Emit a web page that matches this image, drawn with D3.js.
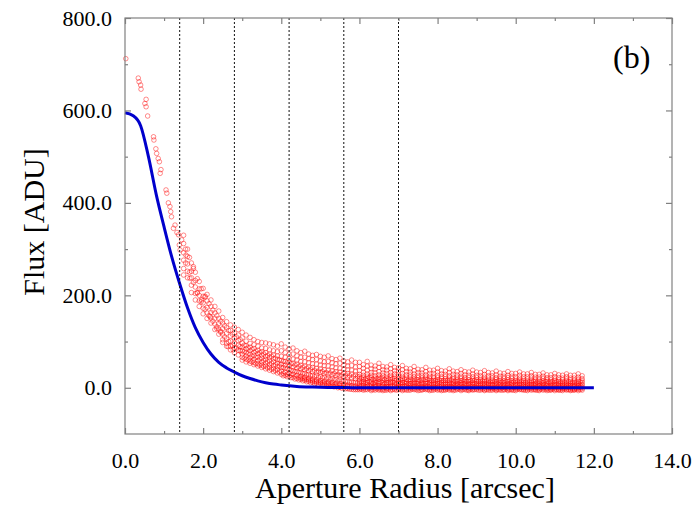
<!DOCTYPE html>
<html lang="en">
<head>
    <meta charset="utf-8" />
    <title>Flux vs Aperture Radius</title>
    <script src="https://cdnjs.cloudflare.com/ajax/libs/d3/7.8.5/d3.min.js"></script>
    <style>
        body { margin: 0; background: white; }
        text { font-family: "Liberation Serif", "Times New Roman", serif; }
        .axis line { stroke: #808080; stroke-width: 1.2; }
        .axis path { display: none; }
        .pt { fill: none; stroke: #ff0000; stroke-opacity: 0.5; stroke-width: 0.9; }
    </style>
</head>
<body>
<script>
    // ---- data ----
    const xTicks = [0, 2, 4, 6, 8, 10, 12, 14];
    const xMinor = [1, 3, 5, 7, 9, 11, 13];
    const yTicks = [0, 200, 400, 600, 800];
    const yMinor = [100, 300, 500, 700];
    const apertures = [1.4, 2.8, 4.2, 5.6, 7.0];

    // model profile (blue curve)
    const modelR = [0, 0.2, 0.4, 0.6, 0.8, 1.0, 1.2, 1.4, 1.6, 1.8, 2.0, 2.2, 2.4, 2.6, 2.8, 3.0,
                    3.2, 3.4, 3.6, 3.8, 4.0, 4.4, 4.8, 5.2, 5.6, 6.0, 7.0, 8.0, 9.0, 10.0, 11.0, 12.0];
    const modelF = [595, 589, 567, 500, 418, 348, 282, 225, 173, 130, 98, 73, 55, 43, 34, 26,
                    20, 15, 11, 8, 6, 3, 1.6, 0.8, 0.4, 0.2, 0, 0, 0, 0, 0, 0];

    // individual pixels near the core: [radius, flux]
    const corePts = [
        [0.02, 712], [0.34, 670], [0.36, 662], [0.40, 655], [0.41, 646], [0.51, 615], [0.54, 624],
        [0.54, 608], [0.58, 588], [0.73, 543], [0.74, 536], [0.79, 517], [0.81, 507], [0.85, 496],
        [0.88, 489], [0.90, 464], [0.92, 472], [1.05, 428], [1.07, 421], [1.11, 400], [1.15, 392],
        [1.17, 381], [1.19, 370], [1.24, 345], [1.28, 352], [1.33, 336], [1.37, 331], [1.39, 309],
        [1.41, 298], [1.45, 320], [1.56, 287], [1.66, 237], [1.75, 262], [1.85, 205], [1.96, 190],
        [2.05, 198], [2.18, 154], [2.35, 128], [2.45, 122], [2.64, 89], [2.77, 82], [2.94, 89]
    ];

    // outer pixels, grouped by radius column (1.5 .. 11.7 arcsec, step 0.1)
    const bandR = d3.range(15, 118).map(i => i / 10);
    const bandF = [
        [330, 312, 292, 276, 258, 244], [300, 284, 268, 252, 238], [270, 252, 238, 222, 206],
        [250, 232, 218, 204, 190], [230, 214, 200, 188, 176], [215, 198, 184, 172, 160],
        [202, 188, 174, 162, 150], [190, 176, 163, 151, 140], [176, 162, 150, 138, 126],
        [166, 150, 139, 127, 116], [152, 140, 128, 116, 104, 98], [143, 130, 118, 106, 96, 90],
        [136, 124, 112, 101, 90, 82], [131, 119, 107, 96, 86, 76], [126, 114, 102, 92, 81, 71],
        // 3.0
        [120, 108, 97, 88, 80, 73, 66, 60], [114, 101, 91, 84, 76, 69, 62, 56],
        [109, 96, 88, 80, 72, 65, 58, 53], [104, 93, 85, 77, 70, 62, 55, 50],
        [100, 90, 81, 74, 66, 59, 52, 47], [98, 86, 78, 71, 64, 56, 49, 44],
        [97, 85, 76, 68, 61, 54, 47, 41], [95, 82, 73, 66, 58, 51, 44, 38],
        [93, 80, 71, 63, 56, 48, 41, 35], [90, 78, 69, 61, 53, 46, 39, 32],
        // 4.0
        [95, 80, 68, 59, 51, 44, 36, 29], [88, 76, 66, 57, 49, 42, 34, 27],
        [84, 72, 63, 55, 47, 39, 31, 25], [86, 73, 62, 53, 45, 37, 29, 22],
        [80, 69, 60, 51, 43, 35, 27, 20], [76, 66, 57, 49, 41, 33, 25, 21, 18],
        [79, 66, 56, 47, 39, 31, 23, 19, 16], [73, 63, 54, 45, 37, 29, 21, 17, 14],
        [70, 61, 52, 44, 35, 27, 19, 15, 12], [72, 61, 51, 42, 34, 26, 17, 13, 10],
        // 5.0
        [68, 58, 49, 41, 33, 24, 16, 12, 9], [66, 56, 48, 39, 31, 23, 14, 10, 7],
        [69, 57, 47, 38, 30, 21, 13, 9, 6], [63, 54, 45, 37, 28, 20, 12, 8, 4],
        [61, 52, 43, 35, 27, 18, 10, 6, 3], [64, 53, 42, 34, 26, 17, 9, 5, 1],
        [58, 49, 40, 32, 24, 16, 8, 4, 0], [56, 47, 39, 31, 23, 14, 6, 2, -2],
        [60, 48, 38, 30, 21, 13, 5, 1, -3], [55, 45, 36, 28, 20, 12, 4, 0, -4],
        // 6.0
        [55, 46, 37, 29, 24, 19, 14, 10, 6, 2, -1, -4], [50, 42, 34, 27, 22, 17, 13, 9, 5, 1, -2, -5],
        [57, 47, 38, 30, 25, 20, 15, 11, 7, 3, 0, -4], [49, 41, 33, 27, 22, 17, 12, 8, 4, 1, -3, -6],
        [47, 40, 33, 26, 21, 16, 12, 8, 5, 2, -1, -5], [53, 44, 35, 28, 23, 18, 13, 9, 5, 1, -2, -5],
        [46, 39, 32, 26, 21, 16, 11, 7, 4, 0, -3, -6], [45, 38, 31, 25, 20, 15, 11, 7, 3, 0, -2, -5],
        [50, 41, 33, 27, 22, 17, 12, 8, 4, 1, -3, -6], [44, 37, 30, 25, 20, 15, 10, 6, 3, -1, -4],
        // 7.0
        [43, 36, 29, 24, 19, 14, 10, 6, 2, -1, -4], [48, 39, 31, 25, 20, 15, 11, 7, 3, 0, -3, -6],
        [42, 35, 28, 23, 18, 13, 9, 5, 2, -2, -5], [41, 34, 28, 23, 18, 14, 9, 5, 1, -2, -5],
        [46, 37, 30, 24, 19, 14, 10, 6, 2, -1, -4], [40, 33, 27, 22, 17, 13, 9, 5, 1, -2, -6],
        [39, 32, 26, 21, 17, 12, 8, 4, 1, -3, -5], [44, 35, 28, 23, 18, 13, 9, 5, 2, -1, -4],
        [38, 31, 25, 20, 16, 12, 8, 4, 0, -3, -6], [38, 31, 25, 21, 16, 12, 8, 4, 1, -2, -5],
        // 8.0
        [42, 34, 27, 22, 17, 13, 9, 5, 1, -2, -5], [37, 30, 24, 20, 15, 11, 7, 4, 0, -3, -6],
        [36, 29, 24, 19, 15, 11, 7, 3, 0, -3, -5], [41, 33, 26, 21, 16, 12, 8, 4, 1, -2, -5],
        [36, 29, 23, 19, 14, 10, 7, 3, 0, -3, -6], [35, 28, 23, 18, 14, 10, 6, 3, -1, -4],
        [39, 31, 25, 20, 15, 11, 7, 4, 0, -3, -6], [35, 28, 22, 18, 14, 10, 6, 2, -1, -4],
        [34, 27, 22, 17, 13, 9, 6, 2, -1, -4, -6], [38, 30, 24, 19, 15, 11, 7, 3, 0, -3, -5],
        // 9.0
        [34, 27, 22, 17, 13, 9, 5, 2, -1, -4], [33, 26, 21, 17, 13, 9, 5, 2, -2, -5],
        [37, 29, 23, 18, 14, 10, 6, 3, -1, -4, -6], [33, 26, 21, 16, 12, 9, 5, 1, -2, -5],
        [32, 26, 21, 16, 12, 8, 5, 1, -2, -5], [36, 28, 22, 18, 13, 10, 6, 2, -1, -4, -6],
        [32, 25, 20, 16, 12, 8, 4, 1, -2, -5], [31, 25, 20, 15, 11, 8, 4, 1, -3, -5],
        [35, 27, 22, 17, 13, 9, 5, 2, -1, -4, -6], [31, 25, 20, 15, 11, 8, 4, 0, -3, -5],
        // 10.0
        [31, 24, 19, 15, 11, 7, 4, 0, -3, -6], [34, 27, 21, 16, 12, 9, 5, 1, -2, -4],
        [30, 24, 19, 15, 11, 7, 3, 0, -3, -5], [30, 24, 19, 14, 10, 7, 3, 0, -3, -6],
        [33, 26, 21, 16, 12, 8, 4, 1, -2, -5], [29, 23, 18, 14, 10, 7, 3, 0, -3, -5],
        [29, 23, 18, 14, 10, 6, 3, -1, -4, -6], [32, 25, 20, 15, 11, 8, 4, 1, -2, -5],
        [28, 22, 18, 14, 10, 6, 3, -1, -3, -6], [28, 22, 17, 13, 10, 6, 2, -1, -4, -5],
        // 11.0
        [31, 24, 19, 15, 11, 7, 4, 0, -3, -6], [28, 22, 17, 13, 9, 6, 2, -1, -4, -5],
        [27, 21, 17, 13, 9, 6, 2, -1, -3, -6], [30, 24, 19, 14, 10, 7, 3, 0, -3, -5],
        [27, 21, 17, 13, 9, 5, 2, -1, -4, -6], [27, 21, 16, 12, 9, 5, 2, -2, -4, -5],
        [30, 23, 18, 14, 10, 6, 3, 0, -3, -6], [26, 20, 16, 12, 8, 5, 1, -2, -5]
    ];

    // pixels falling between those columns (1.55 .. 11.65 arcsec, step 0.1)
    const fillR = d3.range(155, 1170, 10).map(i => i / 100);
    const fillF = [
        [300, 270], [282, 250], [258, 228], [236, 206], [214, 186],
        [196, 170], [182, 156], [168, 144], [156, 132], [144, 120],
        [134, 110], [124, 100], [116, 92], [110, 86], [104, 80],
        // 3.05
        [92, 78, 64], [86, 74, 60], [83, 68, 56], [79, 66, 52], [76, 62, 49],
        [73, 59, 46], [70, 56, 43], [68, 53, 40], [64, 50, 37], [60, 47, 34],
        // 4.05
        [57, 44, 31, 26], [54, 41, 29, 24], [52, 38, 27, 22], [49, 35, 24, 19], [46, 33, 22, 17],
        [44, 31, 20, 15], [42, 28, 18, 13], [40, 26, 16, 11], [38, 24, 14, 9], [36, 22, 12, 7],
        // 5.05
        [35, 21, 11, 6], [33, 19, 10, 4], [32, 18, 8, 3], [31, 17, 7, 2], [29, 15, 6, 0],
        [28, 14, 5, -1], [27, 13, 4, -2], [26, 12, 3, -3], [25, 11, 2, -4], [24, 10, 1, -4],
        // 6.05
        [21, 12, 4, -3], [19, 11, 3, -4], [22, 13, 5, -2], [18, 10, 2, -4], [20, 12, 4, -3],
        [21, 12, 3, -4], [18, 10, 2, -5], [19, 11, 3, -3], [20, 12, 4, -4], [17, 9, 2, -5],
        // 7.05
        [18, 10, 3, -3], [19, 11, 4, -4], [16, 9, 2, -5], [17, 10, 3, -3], [18, 10, 3, -4],
        [16, 8, 2, -5], [17, 9, 2, -3], [18, 10, 3, -4], [15, 8, 1, -5], [16, 9, 2, -3],
        // 8.05
        [17, 10, 3, -4], [15, 8, 1, -5], [16, 8, 2, -3], [17, 9, 3, -4], [14, 7, 1, -5],
        [15, 8, 2, -3], [16, 9, 2, -4], [14, 7, 1, -5], [15, 8, 2, -3], [16, 9, 2, -4],
        // 9.05
        [14, 7, 1, -5], [15, 8, 1, -3], [15, 8, 2, -4], [13, 7, 0, -5], [14, 7, 1, -3],
        [15, 8, 2, -4], [13, 6, 0, -5], [14, 7, 1, -3], [15, 8, 2, -4], [13, 6, 0, -5],
        // 10.05
        [14, 7, 1, -3], [14, 7, 1, -4], [12, 6, 0, -5], [13, 7, 1, -3], [14, 7, 1, -4],
        [12, 6, 0, -5], [13, 6, 1, -3], [14, 7, 1, -4], [12, 5, 0, -5], [13, 6, 0, -3],
        // 11.05
        [13, 7, 1, -4], [12, 5, 0, -5], [12, 6, 0, -3], [13, 6, 1, -4], [11, 5, -1, -5],
        [12, 6, 0, -3], [13, 6, 1, -4]
    ];

    // ---- layout ----
    const W = 693, H = 505;
    const plot = { left: 125, right: 672, top: 18, bottom: 434 };

    const svg = d3.select("body").append("svg")
        .attr("width", W)
        .attr("height", H);

    const x = d3.scaleLinear().domain([0, 14]).range([plot.left, plot.right]);
    const y = d3.scaleLinear().domain([-100, 800]).range([plot.bottom, plot.top]);

    // flatten the points
    const points = corePts.map(d => ({ r: d[0], f: d[1] }));
    bandR.forEach((r, i) => bandF[i].forEach(f => points.push({ r: r, f: f })));
    fillR.forEach((r, i) => fillF[i].forEach(f => points.push({ r: r, f: f })));

    // scatter
    svg.append("g").selectAll("circle")
        .data(points)
        .join("circle")
        .attr("class", "pt")
        .attr("cx", d => x(d.r))
        .attr("cy", d => y(d.f))
        .attr("r", 2.3);

    // model curve
    const line = d3.line()
        .x((d, i) => x(modelR[i]))
        .y(d => y(d))
        .curve(d3.curveMonotoneX);

    svg.append("path")
        .datum(modelF)
        .attr("d", line)
        .attr("fill", "none")
        .attr("stroke", "#0000cc")
        .attr("stroke-width", 3);

    // aperture markers
    svg.append("g").selectAll("line")
        .data(apertures)
        .join("line")
        .attr("x1", d => x(d)).attr("x2", d => x(d))
        .attr("y1", plot.top).attr("y2", plot.bottom)
        .attr("stroke", "#111")
        .attr("stroke-width", 1)
        .attr("stroke-dasharray", "2,2");

    // axes (ticks point inward)
    const fmt = d3.format(".1f");
    const addAxis = (axis, tx, ty) => {
        const g = svg.append("g").attr("class", "axis")
            .attr("transform", `translate(${tx},${ty})`)
            .call(axis);
        g.selectAll("text")
            .style("font-family", "'Liberation Serif', 'Times New Roman', serif")
            .style("font-size", "22px")
            .style("fill", "black");
        return g;
    };

    addAxis(d3.axisBottom(x).tickValues(xTicks).tickSize(-6).tickPadding(18).tickFormat(fmt), 0, plot.bottom);
    addAxis(d3.axisBottom(x).tickValues(xMinor).tickSize(-3).tickFormat(""), 0, plot.bottom);
    addAxis(d3.axisTop(x).tickValues(xTicks).tickSize(-6).tickFormat(""), 0, plot.top);
    addAxis(d3.axisTop(x).tickValues(xMinor).tickSize(-3).tickFormat(""), 0, plot.top);

    addAxis(d3.axisLeft(y).tickValues(yTicks).tickSize(-6).tickPadding(13).tickFormat(fmt), plot.left, 0);
    addAxis(d3.axisLeft(y).tickValues(yMinor).tickSize(-3).tickFormat(""), plot.left, 0);
    addAxis(d3.axisRight(y).tickValues(yTicks).tickSize(-6).tickFormat(""), plot.right, 0);
    addAxis(d3.axisRight(y).tickValues(yMinor).tickSize(-3).tickFormat(""), plot.right, 0);

    // frame
    svg.append("rect")
        .attr("x", plot.left).attr("y", plot.top)
        .attr("width", plot.right - plot.left)
        .attr("height", plot.bottom - plot.top)
        .attr("fill", "none")
        .attr("stroke", "#808080")
        .attr("stroke-width", 1.2);

    // labels
    svg.append("text")
        .attr("x", 405).attr("y", 498)
        .attr("text-anchor", "middle")
        .style("font-size", "30px")
        .text("Aperture Radius [arcsec]");

    svg.append("text")
        .attr("transform", "translate(44,222) rotate(-90)")
        .attr("text-anchor", "middle")
        .style("font-size", "30px")
        .text("Flux [ADU]");

    svg.append("text")
        .attr("x", 613).attr("y", 68)
        .style("font-size", "32px")
        .text("(b)");
</script>
</body>
</html>
